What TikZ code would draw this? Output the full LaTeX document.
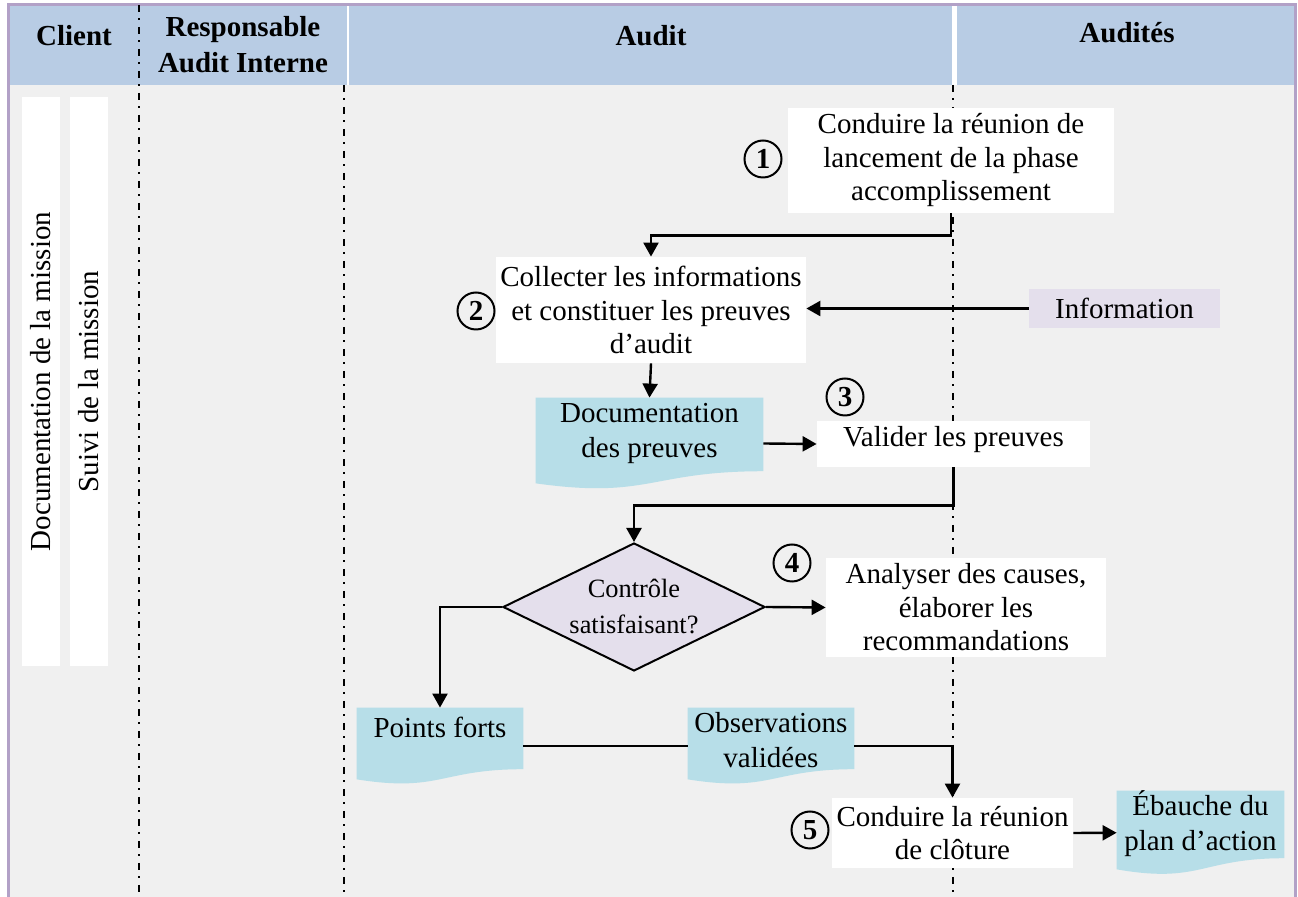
\documentclass[tikz,border=0pt]{standalone}
\usepackage{fontspec}
\setmainfont{Liberation Serif}
\usetikzlibrary{arrows.meta,calc,shapes.geometric}
\pgfdeclarelayer{background}
\pgfsetlayers{background,main}
\definecolor{hdrblue}{HTML}{B8CCE4}
\definecolor{bodygray}{HTML}{F0F0F0}
\definecolor{framepurple}{HTML}{B2A1C7}
\definecolor{lav}{HTML}{E4DFEC}
\definecolor{docblue}{HTML}{B7DEE8}
\newcommand\docfill[1]{\fill[docblue] (#1.north west) -- (#1.north east) -- ($(#1.north east)!0.802!(#1.south east)$) .. controls ($(#1.north)!0.802!(#1.south)$) and ($(#1.north)!1.1075!(#1.south)$) .. ($(#1.north west)!0.934!(#1.south west)$) -- cycle;}
\begin{document}
\begin{tikzpicture}[x=0.5pt,y=-0.5pt,
  every node/.style={font=\fontsize{14.5}{16.75}\selectfont, inner sep=0pt},
  pbox/.style={fill=white, align=center},
  docnode/.style={font=\fontsize{14.5}{17.25}\selectfont},
  hdr/.style={font=\bfseries\fontsize{14.5}{18}\selectfont, align=center},
  num/.style={circle, draw, line width=1pt, minimum size=18.5pt, font=\bfseries\fontsize{14.5}{16}\selectfont},
  arr/.style={line width=1.2pt, -{Triangle[length=7pt,width=7.5pt]}},
  conn/.style={line width=1.2pt},
  lane/.style={line width=1pt, dash pattern=on 3.5pt off 3.25pt on 0.75pt off 3.5pt},
  strip/.style={fill=white, rotate=90, minimum width=284.5pt, minimum height=19pt}]
\useasboundingbox (0,0) rectangle (1298,897);
\begin{pgfonlayer}{background}
\fill[white] (0,0) rectangle (1298,897);
\fill[bodygray] (8,85) rectangle (1295,897);
\fill[hdrblue] (9,6) rectangle (347,85);
\fill[hdrblue] (349,6) rectangle (952,85);
\fill[hdrblue] (957,6) rectangle (1294,85);
\end{pgfonlayer}
\draw[framepurple, line width=1.5pt] (8,897) -- (8,5) -- (1295,5) -- (1295,897);
% lanes
\draw[lane] (139,5) -- (139,897);
\draw[lane] (344,85) -- (344,897);
\draw[lane] (953,85) -- (953,897);
% headers
\node[hdr] (hclient) at (74,36) {Client};
\node[hdr] (hresp) at (243,45) {Responsable\\Audit Interne};
\node[hdr] (haudit) at (651,36) {Audit};
\node[hdr] (haudites) at (1127,33) {Audités};
% strips
\node[strip] (s1) at (41,381.5) {Documentation de la mission};
\node[strip] (s2) at (89,381.5) {Suivi de la mission};
% boxes
\node[pbox, minimum width=163pt, minimum height=52.5pt] (b1) at (951,160.5) {Conduire la réunion de\\lancement de la phase\\accomplissement};
\node[pbox, minimum width=155pt, minimum height=53pt] (b2) at (651,310) {Collecter les informations\\et constituer les preuves\\d’audit};
\node[fill=lav, minimum width=95.5pt, minimum height=19.5pt] (info) at (1124.5,308.5) {Information};
\node[docnode, minimum width=113.5pt, minimum height=45.5pt] (d1) at (649.5,443.5) {\raisebox{5.25pt}[\height][\depth]{\begin{tabular}{@{}c@{}}Documentation\\des preuves\end{tabular}}};
\node[pbox, minimum width=136.5pt, minimum height=23pt] (b3) at (953.5,444) {\raisebox{2pt}[\height][\depth]{Valider les preuves}};
\node[diamond, shape aspect=2.05, draw, fill=lav, line width=1pt, minimum width=131pt, minimum height=64pt, align=center, font=\fontsize{13.2}{18}\selectfont] (dia) at (634,607) {Contrôle\\satisfaisant?};
\node[pbox, minimum width=140pt, minimum height=49.5pt] (b4) at (966,607.5) {Analyser des causes,\\élaborer les\\recommandations};
\node[docnode, minimum width=83pt, minimum height=38pt] (pf) at (440,746) {\raisebox{9.5pt}[\height][\depth]{Points forts}};
\node[docnode, minimum width=83pt, minimum height=38pt] (obs) at (771,746) {\raisebox{1.5pt}[\height][\depth]{\begin{tabular}{@{}c@{}}Observations\\validées\end{tabular}}};
\node[pbox, minimum width=120.5pt, minimum height=35pt] (b5) at (952.5,833) {Conduire la réunion\\de clôture};
\node[docnode, minimum width=83.5pt, minimum height=41.75pt] (eb) at (1200.5,832.75) {\raisebox{3.6pt}[\height][\depth]{\begin{tabular}{@{}c@{}}Ébauche du\\plan d’action\end{tabular}}};
% document shapes
\begin{pgfonlayer}{background}
\docfill{d1}
\docfill{pf}
\docfill{obs}
\docfill{eb}
\end{pgfonlayer}
% numbers
\node[num] (n1) at (763,159) {1};
\node[num] (n2) at (476,311) {2};
\node[num] (n3) at (845,397) {3};
\node[num] (n4) at (792,563) {4};
\node[num] (n5) at (810,830) {5};
% connectors
\draw[arr] (b1.south) -- ++(0,22) -| (b2.north);
\draw[arr] (info.west) -- (info.west -| b2.east);
\draw[arr] (b2.south) -- (d1.north);
\draw[arr] (d1.east) -- (b3.west);
\draw[arr] (b3.south) -- ++(0,38) -| (dia.north);
\draw[arr] (dia.east) -- (b4.west);
\draw[arr] (dia.west) -| (pf.north);
\draw[conn] (pf.east) -- (obs.west);
\draw[arr] (obs.east) -| (b5.north);
\draw[arr] (b5.east) -- (eb.west);
\end{tikzpicture}
\end{document}
